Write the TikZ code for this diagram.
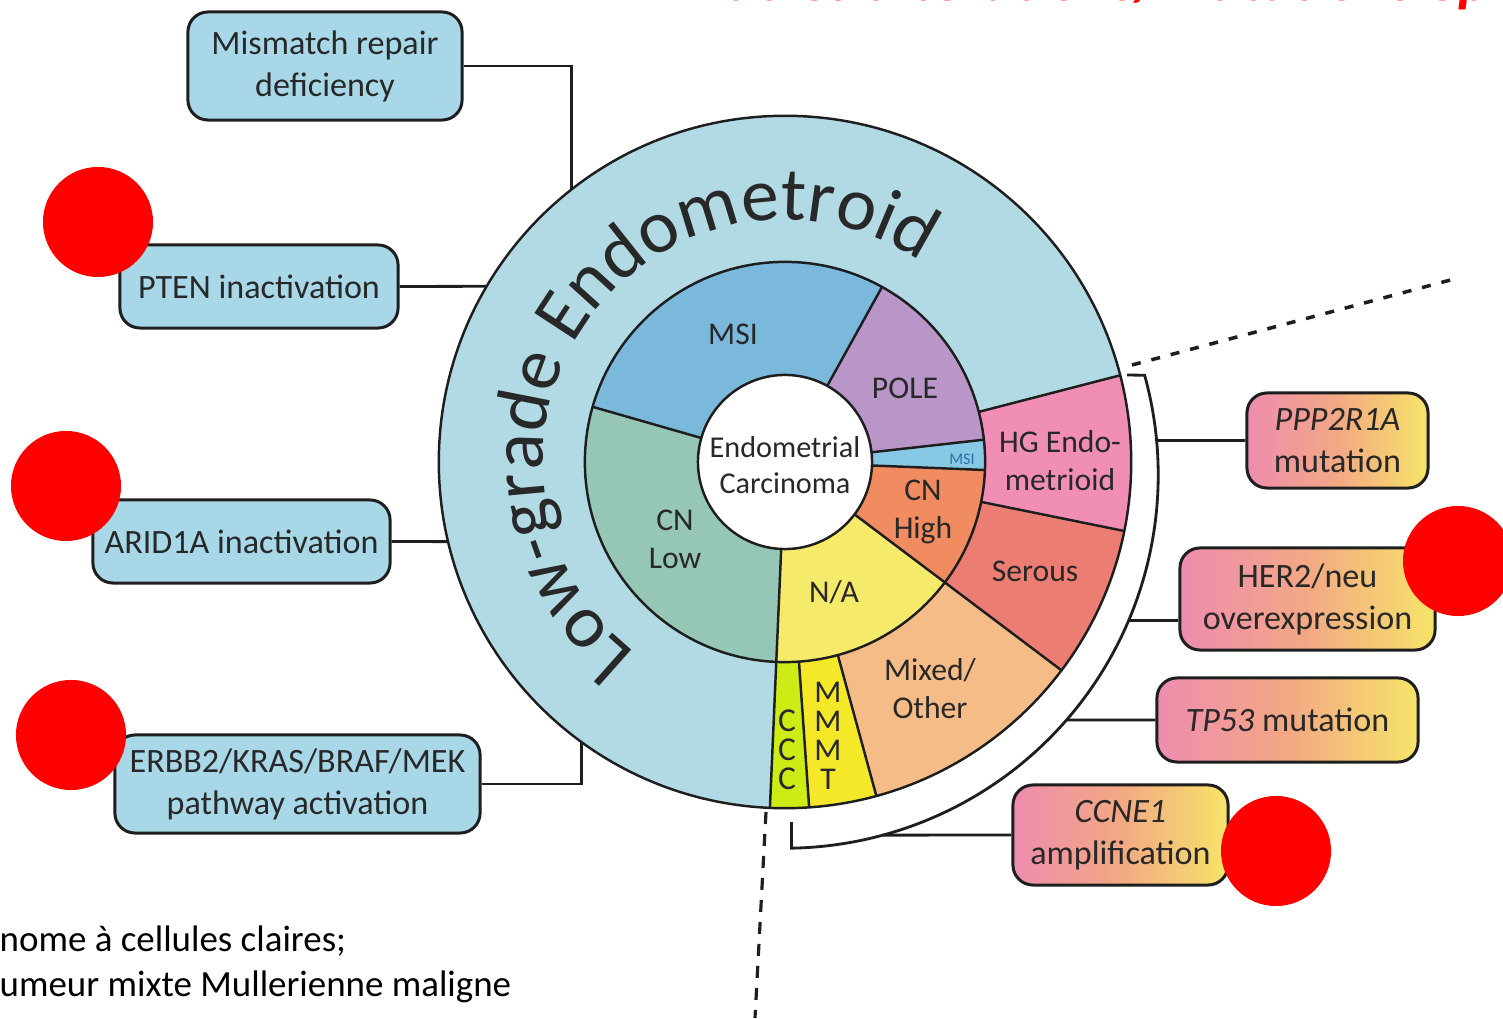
\documentclass[tikz,border=0pt]{standalone}
\usepackage{fontspec}
\setmainfont{Carlito}
\usetikzlibrary{calc,decorations.text}
\definecolor{lowblue}{RGB}{178,218,228}
\definecolor{boxblue}{RGB}{168,216,232}
\definecolor{msi}{RGB}{122,184,220}
\definecolor{msitwo}{RGB}{135,200,228}
\definecolor{pole}{RGB}{186,150,200}
\definecolor{cnhigh}{RGB}{240,140,95}
\definecolor{nacol}{RGB}{245,234,105}
\definecolor{cnlow}{RGB}{150,198,182}
\definecolor{hgpink}{RGB}{240,142,182}
\definecolor{serous}{RGB}{235,125,115}
\definecolor{mixed}{RGB}{246,188,135}
\definecolor{mmmt}{RGB}{245,232,40}
\definecolor{ccc}{RGB}{205,235,20}
\definecolor{gpink}{RGB}{238,140,175}
\definecolor{gmid}{RGB}{243,168,132}
\definecolor{gyel}{RGB}{246,228,105}
\definecolor{txt}{RGB}{40,40,40}
\definecolor{lncol}{RGB}{30,30,30}
\definecolor{smallmsi}{RGB}{50,110,165}
\newcommand\ringseg[5]{\fill[#1] ($(C)+(#2:#5)$) arc[start angle=#2, end angle=#3, radius=#5] -- ($(C)+(#3:#4)$) arc[start angle=#3, end angle=#2, radius=#4] -- cycle;}
\begin{document}
\begin{tikzpicture}[x=0.01cm,y=0.01cm,
  ln/.style={draw=lncol,line width=0.7pt},
  con/.style={draw=lncol,line width=0.8pt},
  lab/.style={text=txt,align=center,inner sep=0pt,font=\fontsize{9}{10.8}\selectfont},
  lbox/.style={draw=lncol,line width=0.85pt,rounded corners=2mm,fill=boxblue,text=txt,align=center,inner sep=0pt,font=\fontsize{9.7}{11.9}\selectfont},
  rbox/.style={draw=lncol,line width=0.85pt,rounded corners=2mm,left color=gpink,right color=gyel,middle color=gmid,text=txt,align=center,inner sep=0pt,font=\fontsize{9.7}{11.9}\selectfont},
  reddot/.style={fill=red,draw=none,circle,minimum size=1.1cm,inner sep=0pt},
  dsh/.style={draw=lncol,line width=1pt,dash pattern=on 0.09cm off 0.11cm},
  dshb/.style={draw=lncol,line width=0.9pt,dash pattern=on 0.12cm off 0.10cm}]
\useasboundingbox (0,0) rectangle (1503,1018);
\clip (0,0) rectangle (1503,1018);
\fill[white] (0,0) rectangle (1503,1018);

\coordinate (C) at (785,556);
\coordinate (B) at (785,543);

% title (cut off at top)
\node[anchor=base west,text=red,inner sep=0pt,font=\fontsize{17}{20}\selectfont\bfseries\itshape] (title) at (690,1017.5) {Autres altérations/mutations épigénétiques};

% rings
\fill[lowblue] (C) circle[radius=3.46cm];
\ringseg{hgpink}{-11.5}{14.5}{2cm}{3.46cm}
\ringseg{serous}{-37}{-11.5}{2cm}{3.46cm}
\ringseg{mixed}{-74.7}{-37}{2cm}{3.46cm}
\ringseg{mmmt}{-86}{-74.7}{2cm}{3.46cm}
\ringseg{ccc}{-92.5}{-86}{2cm}{3.46cm}
\ringseg{msi}{61}{164}{0.87cm}{2cm}
\ringseg{pole}{6.4}{61}{0.87cm}{2cm}
\ringseg{msitwo}{-2.3}{6.4}{0.87cm}{2cm}
\ringseg{cnhigh}{-37}{-2.3}{0.87cm}{2cm}
\ringseg{nacol}{-92.5}{-37}{0.87cm}{2cm}
\ringseg{cnlow}{164}{267.5}{0.87cm}{2cm}
\fill[white] (C) circle[radius=0.87cm];
\draw[ln] (C) circle[radius=3.46cm];
\draw[ln] (C) circle[radius=2cm];
\draw[ln] (C) circle[radius=0.87cm];
\foreach \a/\ra/\rb in {61/0.87/2,164/0.87/2,6.4/0.87/2,-2.3/0.87/2,-37/0.87/3.46,-92.5/0.87/3.46,14.5/2/3.46,-11.5/2/3.46,-74.7/2/3.46,-86/2/3.46}
  \draw[ln] ($(C)+(\a:\ra cm)$) -- ($(C)+(\a:\rb cm)$);

% curved title of the outer ring
\path[decorate,decoration={text along path,text align=left,
  text={|\fontsize{21.5}{24}\selectfont\color{txt}|Low-grade Endometroid}}]
  ($(C)+(232:2.42cm)$) arc[start angle=232,end angle=25,radius=2.42cm];

% ring labels
\node[lab,font=\fontsize{8.6}{10.2}\selectfont] (ec) at (785,553) {Endometrial\\Carcinoma};
\node[lab] (lmsi) at (733,684) {MSI};
\node[lab] (lpole) at (905,630) {POLE};
\node[lab,text=smallmsi,font=\fontsize{4.6}{5}\selectfont] (lmsis) at (962,559) {MSI};
\node[lab] (lcnh) at (923,506) {CN\\High};
\node[lab] (lna) at (834,426) {N/A};
\node[lab] (lcnl) at (675,479) {CN\\Low};
\node[lab] (lhg) at (1060,557) {HG Endo-\\metrioid};
\node[lab] (lser) at (1035,447) {Serous};
\node[lab] (lmix) at (930,329) {Mixed/\\Other};
\node[lab,font=\fontsize{9}{8.2}\selectfont] (lmmmt) at (828,282) {M\\M\\M\\T};
\node[lab,font=\fontsize{9.5}{8.2}\selectfont] (lccc) at (787,268) {C\\C\\C};

% left boxes
\node[lbox,minimum width=2.74cm,minimum height=1.08cm] (mmr) at (325,952) {Mismatch repair\\deficiency};
\node[lbox,minimum width=2.78cm,minimum height=0.83cm] (pten) at (259,731.5) {PTEN inactivation};
\node[lbox,minimum width=2.97cm,minimum height=0.83cm] (arid) at (241.5,476.5) {ARID1A inactivation};
\node[lbox,minimum width=3.65cm,minimum height=0.98cm] (erbb) at (297.5,234) {ERBB2/KRAS/BRAF/MEK\\pathway activation};

% right boxes
\node[rbox,minimum width=1.81cm,minimum height=0.95cm] (ppp) at (1337.5,577.5) {\itshape PPP2R1A\\mutation};
\node[rbox,minimum width=2.55cm,minimum height=1.02cm] (her) at (1307.5,419) {HER2/neu\\overexpression};
\node[rbox,minimum width=2.61cm,minimum height=0.84cm] (tp) at (1287.5,298) {\textit{TP53} mutation};
\node[rbox,minimum width=2.15cm,minimum height=1.00cm] (ccne) at (1120.5,183) {\itshape CCNE1\\amplification};

% left connectors
\coordinate (c1) at ($(C)+(128:3.46cm)$);
\coordinate (c2) at ($(C)+(149.5:3.46cm)$);
\coordinate (c3) at ($(C)+(193.3:3.46cm)$);
\coordinate (c4) at ($(C)+(234.06:3.46cm)$);
\draw[con] (mmr.east) -| (c1);
\draw[con] (pten.east) -- (c2);
\draw[con] (arid.east) -- (c3);
\draw[con] (erbb.east) -| (c4);

% bracket and right connectors
\coordinate (bt) at (1127,643);
\coordinate (bs) at ($(B)+(15.5:3.73cm)$);
\draw[con,line width=0.8pt] (bt) -- (bs) arc[start angle=15.5,end angle=-89,radius=3.73cm] -- ++(0,26);
\coordinate (d1) at ($(B)+(5.3:3.73cm)$);
\coordinate (d2) at ($(B)+(-22.9:3.73cm)$);
\coordinate (d3) at ($(B)+(-41.05:3.73cm)$);
\coordinate (d4) at ($(B)+(-74.8:3.73cm)$);
\draw[con] (d1) -- (ppp.west);
\draw[con] (d2) -- (d2 -| her.west);
\draw[con] (d3) -- (tp.west);
\draw[con] (d4) -- (ccne.west);

% dashed guide lines
\coordinate (ga) at (1132,653);
\coordinate (gb) at (1458,740);
\coordinate (gc) at (766,206);
\coordinate (gd) at (755,0);
\draw[dsh] (ga) -- (gb);
\draw[dshb] (gc) -- (gd);

% bottom-left note (cut off at left)
\node[anchor=base west,inner sep=0pt,text=black,font=\fontsize{10.5}{13}\selectfont] (n1) at (-1,67) {nome à cellules claires;};
\node[anchor=base west,inner sep=0pt,text=black,font=\fontsize{10.5}{13}\selectfont] (n2) at (-1,22) {umeur mixte Mullerienne maligne};

% red markers
\node[reddot] (r1) at (98,796) {};
\node[reddot] (r2) at (66,532) {};
\node[reddot] (r3) at (71,283) {};
\node[reddot] (r4) at (1458,457) {};
\node[reddot] (r5) at (1276,167) {};
\end{tikzpicture}
\end{document}
